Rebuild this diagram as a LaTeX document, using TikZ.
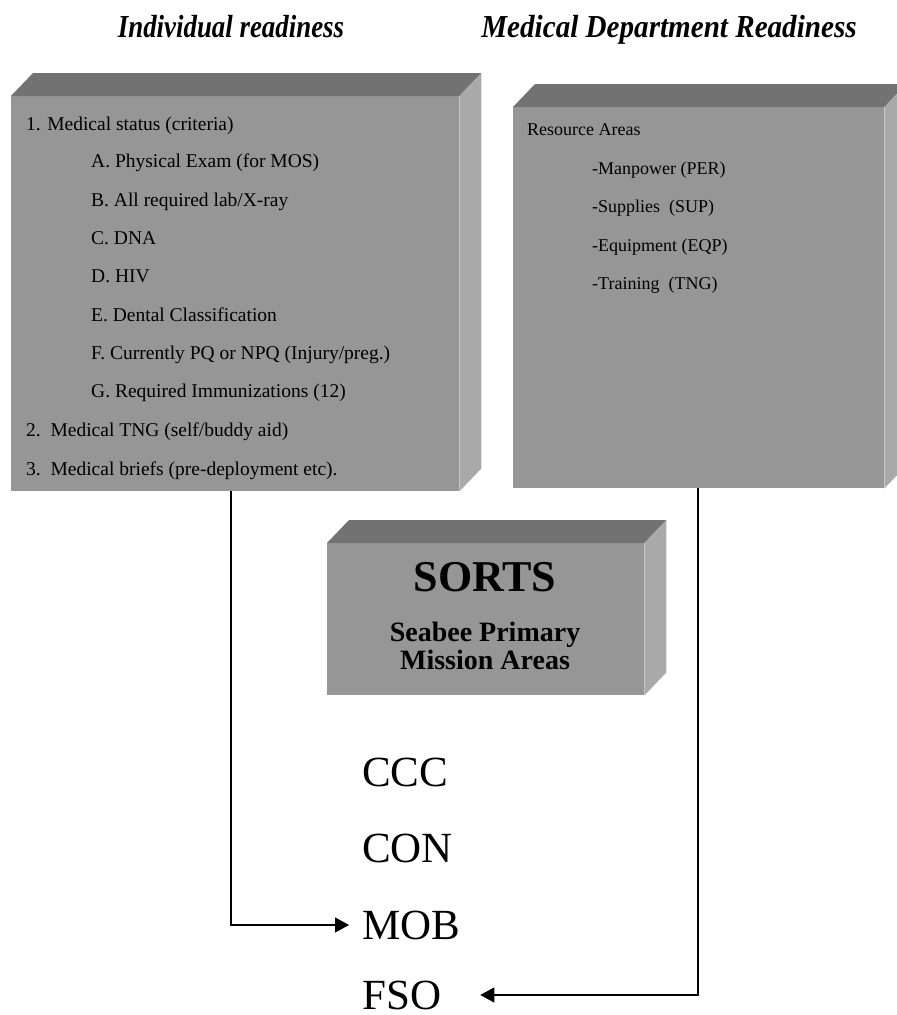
\documentclass[tikz,border=0pt]{standalone}
\usepackage{fontspec}
\setmainfont{Liberation Serif}
\usetikzlibrary{arrows.meta}
\definecolor{frontgray}{RGB}{150,150,150}
\definecolor{topgray}{RGB}{114,114,114}
\definecolor{sidegray}{RGB}{169,169,169}
\begin{document}
\begin{tikzpicture}[x=1pt,y=-1pt,>={Triangle[length=14pt,width=15pt]},
    face/.style={fill=frontgray,inner sep=0pt,anchor=north west},
    item/.style={anchor=base west,inner sep=0pt,font=\fontsize{19.5}{19.5}\selectfont},
    res/.style={anchor=base west,inner sep=0pt,font=\fontsize{18}{18}\selectfont},
    area/.style={anchor=west,inner sep=0pt,font=\fontsize{43}{43}\selectfont},
    head/.style={anchor=base,inner sep=0pt,font=\fontsize{32}{32}\selectfont\bfseries\itshape},
    conn/.style={->,line width=1.2pt}]
\useasboundingbox (0,0) rectangle (897,1015);
% headings
\node[head] (hind) at (231,37) {\scalebox{0.84}[1]{Individual readiness}};
\node[head] (hmed) at (669,37) {\scalebox{0.91}[1]{Medical Department Readiness}};
% boxes
\node[face,minimum width=448pt,minimum height=395pt] (ind) at (11,96) {};
\node[face,minimum width=371pt,minimum height=381pt] (med) at (513,107) {};
\node[face,minimum width=317pt,minimum height=152pt] (sorts) at (327,543) {};
\foreach \b in {ind,med,sorts}{
    \fill[topgray](\b.north west)--++(22,-23)--([shift={(22,-23)}]\b.north east)--(\b.north east)--cycle;
    \fill[sidegray](\b.north east)--++(22,-23)--([shift={(22,-23)}]\b.south east)--(\b.south east)--cycle;
}
% individual readiness
\node[item] (st1) at (26,130) {1. Medical status (criteria)};
\node[item] (sta) at (91,167) {A. Physical Exam (for MOS)};
\node[item] (stb) at (91,206) {B. All required lab/X-ray};
\node[item] (stc) at (91,244) {C. DNA};
\node[item] (std) at (91,282) {D. HIV};
\node[item] (ste) at (91,321) {E. Dental Classification};
\node[item] (stf) at (91,359) {F. Currently PQ or NPQ (Injury/preg.)};
\node[item] (stg) at (91,397) {G. Required Immunizations (12)};
\node[item] (st2) at (26,436) {2.\ \ Medical TNG (self/buddy aid)};
\node[item] (st3) at (26,475) {3.\ \ Medical briefs (pre-deployment etc).};
% department readiness
\node[res] (ra) at (527,135) {Resource Areas};
\node[res] (rper) at (592,174) {-Manpower (PER)};
\node[res] (rsup) at (592,212) {-Supplies\ \ (SUP)};
\node[res] (reqp) at (592,251) {-Equipment (EQP)};
\node[res] (rtng) at (592,289) {-Training\ \ (TNG)};
% SORTS
\node[font=\fontsize{44}{44}\selectfont\bfseries] (sortst) at (485,577) {SORTS};
\node[font=\fontsize{28}{28}\selectfont\bfseries,align=center] (sortsub) at (485,646) {Seabee Primary\\Mission Areas};
% mission areas
\node[area] (ccc) at (362,772) {CCC};
\node[area] (con) at (362,848) {CON};
\node[area] (mob) at (362,925) {MOB};
\node[area] (fso) at (362,995) {FSO};
\coordinate (indx) at (231,0);
\coordinate (medx) at (698,0);
\draw[conn,shorten >=13pt](ind.south -| indx) |- (mob.west);
\draw[conn,shorten >=39pt](med.south -| medx) |- (fso.east);
\end{tikzpicture}
\end{document}
